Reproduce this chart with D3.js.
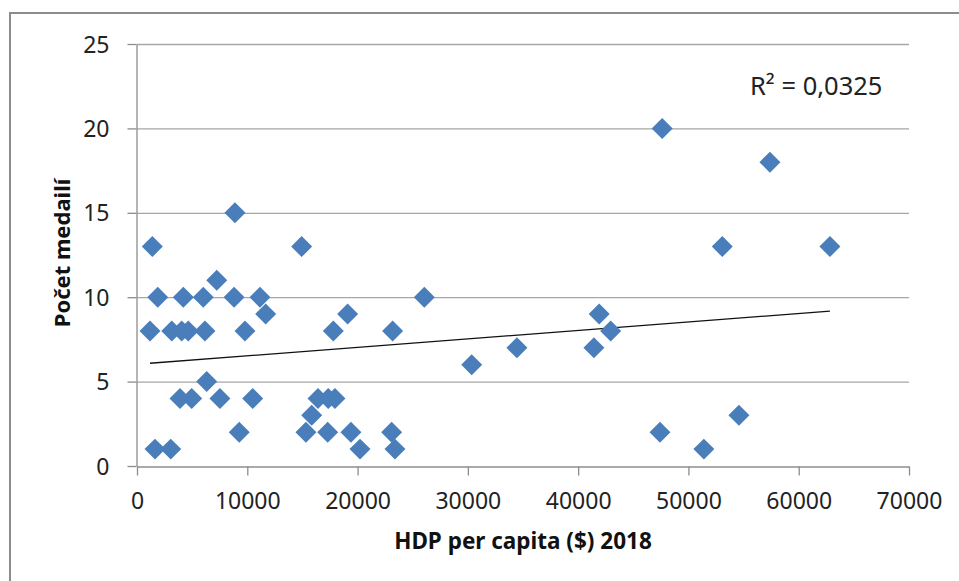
<!DOCTYPE html>
<html>
<head>
<meta charset="utf-8">
<script src="https://cdn.jsdelivr.net/npm/d3@7"></script>
<style>
  body { margin: 0; background: #fff; }
  svg { display: block; font-family: "Noto Sans", "Open Sans", sans-serif; }
</style>
</head>
<body>
<svg id="chart"></svg>
<script>
// HDP per capita ($) 2018
let gdp = [
  1180, 1390, 1630, 1880, 3060, 3150, 3900, 4050, 4200, 4650,
  4960, 6010, 6160, 6320, 7230, 7520, 8800, 8880, 9270, 9790,
  10490, 11150, 11670, 14930, 15320, 15840, 16410, 17290, 17340, 17950,
  17800, 19100, 19400, 20220, 23090, 23180, 23390, 26050, 30350, 34450,
  41430, 41910, 42950, 47420, 47620, 51400, 53070, 54580, 57390, 62830
];
// Počet medailí
let medals = [
  8, 13, 1, 10, 1, 8, 4, 8, 10, 8,
  4, 10, 8, 5, 11, 4, 10, 15, 2, 8,
  4, 10, 9, 13, 2, 3, 4, 2, 4, 4,
  8, 9, 2, 1, 2, 8, 1, 10, 6, 7,
  7, 9, 8, 2, 20, 1, 13, 3, 18, 13
];
let xTicks = [0, 10000, 20000, 30000, 40000, 50000, 60000, 70000];
let yTicks = [0, 5, 10, 15, 20, 25];
let rSquaredLabel = "R² = 0,0325";

let w = 959;
let h = 581;
let padLeft = 137;
let padRight = 909;
let padTop = 44;
let padBottom = 466;

let svg = d3.select("#chart").attr("width", w).attr("height", h);

// chart frame
svg.append("rect")
  .attr("x", 10).attr("y", 13)
  .attr("width", 980).attr("height", 600)
  .attr("fill", "#fff")
  .attr("stroke", "#8c8c8c")
  .attr("stroke-width", 2);

let xScale = d3.scaleLinear().domain([0, 70000]).range([padLeft, padRight]);
let yScale = d3.scaleLinear().domain([0, 25]).range([padBottom, padTop]);

// gridlines
svg.append("g")
  .selectAll("line")
  .data(yTicks.filter((d) => d > 0))
  .enter()
  .append("line")
  .attr("x1", padLeft).attr("x2", padRight)
  .attr("y1", (d) => yScale(d) + 0.5).attr("y2", (d) => yScale(d) + 0.5)
  .attr("stroke", "#a6a6a6")
  .attr("stroke-width", 1.3);

let xAxis = d3.axisBottom(xScale).tickValues(xTicks).tickSize(9).tickSizeOuter(0).tickPadding(17).tickFormat(d3.format("d"));
let yAxis = d3.axisLeft(yScale).tickValues(yTicks).tickSize(9).tickSizeOuter(0).tickPadding(18).tickFormat(d3.format("d"));

let gx = svg.append("g").attr("transform", `translate(0, ${padBottom + 0.5})`).call(xAxis);
let gy = svg.append("g").attr("transform", `translate(${padLeft - 0.5}, 0)`).call(yAxis);

[gx, gy].forEach((g) => {
  g.selectAll("path, line").attr("stroke", "#8c8c8c").attr("stroke-width", 1.3);
  g.selectAll("text")
    .attr("fill", "#222")
    .style("font-size", "23px")
    .style("font-family", "'Noto Sans', sans-serif");
});
gy.selectAll("text").attr("dy", "0.35em");

// linear trend line (least squares over the points)
let mx = d3.mean(gdp);
let my = d3.mean(medals);
let sxy = d3.sum(gdp, (x, i) => (x - mx) * (medals[i] - my));
let sxx = d3.sum(gdp, (x) => (x - mx) * (x - mx));
let slope = sxy / sxx;
let intercept = my - slope * mx;
let xExt = d3.extent(gdp);

svg.append("line")
  .attr("x1", xScale(xExt[0])).attr("y1", yScale(intercept + slope * xExt[0]))
  .attr("x2", xScale(xExt[1])).attr("y2", yScale(intercept + slope * xExt[1]))
  .attr("stroke", "#111")
  .attr("stroke-width", 1.3);

// diamonds
let diamond = d3.symbol().type(d3.symbolSquare).size(220);
svg.append("g")
  .selectAll("path")
  .data(gdp)
  .enter()
  .append("path")
  .attr("d", diamond)
  .attr("transform", (d, i) => `translate(${xScale(d)}, ${yScale(medals[i])}) rotate(45)`)
  .attr("fill", "#4a7ebb");

// labels
svg.append("text")
  .attr("x", 750).attr("y", 95)
  .attr("fill", "#222")
  .style("font-size", "25.5px")
  .text(rSquaredLabel);

svg.append("text")
  .attr("x", 523).attr("y", 549)
  .attr("text-anchor", "middle")
  .attr("fill", "#111")
  .style("font-size", "22.5px")
  .style("font-weight", "bold")
  .text("HDP per capita ($) 2018");

svg.append("text")
  .attr("transform", "translate(70, 253) rotate(-90)")
  .attr("text-anchor", "middle")
  .attr("fill", "#111")
  .style("font-size", "22px")
  .style("font-weight", "bold")
  .text("Počet medailí");
</script>
</body>
</html>
